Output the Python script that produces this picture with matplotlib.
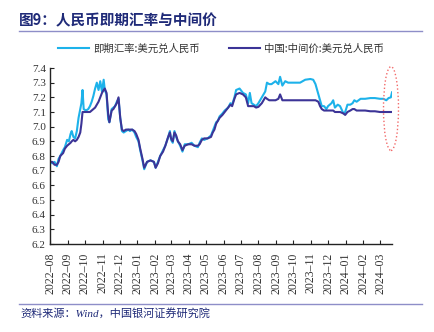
import matplotlib
matplotlib.use('Agg')
import matplotlib.pyplot as plt
import matplotlib.dates as mdates
from matplotlib.patches import Ellipse
from matplotlib.lines import Line2D
import pandas as pd

plt.rcParams['font.family'] = ['Noto Sans CJK SC', 'DejaVu Sans']
plt.rcParams['axes.unicode_minus'] = False

# ===================== 数据 =====================
dates = [
    '2022-08-01', '2022-08-05', '2022-08-09', '2022-08-13', '2022-08-16', '2022-08-19',
    '2022-08-24', '2022-08-27', '2022-08-31', '2022-09-03', '2022-09-06', '2022-09-08',
    '2022-09-11', '2022-09-14', '2022-09-17', '2022-09-20', '2022-09-23', '2022-09-25',
    '2022-09-27', '2022-09-29', '2022-10-03', '2022-10-07', '2022-10-10', '2022-10-13',
    '2022-10-16', '2022-10-19', '2022-10-22', '2022-10-25', '2022-10-28', '2022-10-31',
    '2022-11-03', '2022-11-05', '2022-11-08', '2022-11-11', '2022-11-13', '2022-11-17',
    '2022-11-20', '2022-11-23', '2022-11-26', '2022-11-29', '2022-12-02', '2022-12-05',
    '2022-12-08', '2022-12-12', '2022-12-16', '2022-12-19', '2022-12-23', '2022-12-27',
    '2022-12-30', '2023-01-03', '2023-01-06', '2023-01-10', '2023-01-13', '2023-01-18',
    '2023-01-24', '2023-01-30', '2023-02-02', '2023-02-06', '2023-02-10', '2023-02-15',
    '2023-02-19', '2023-02-24', '2023-02-27', '2023-03-01', '2023-03-04', '2023-03-07',
    '2023-03-10', '2023-03-13', '2023-03-17', '2023-03-21', '2023-03-25', '2023-03-31',
    '2023-04-06', '2023-04-11', '2023-04-17', '2023-04-20', '2023-04-24', '2023-04-28',
    '2023-05-04', '2023-05-10', '2023-05-13', '2023-05-16', '2023-05-19', '2023-05-22',
    '2023-05-25', '2023-05-30', '2023-06-03', '2023-06-09', '2023-06-13', '2023-06-16',
    '2023-06-20', '2023-06-23', '2023-06-29', '2023-07-05', '2023-07-10', '2023-07-14',
    '2023-07-17', '2023-07-20', '2023-07-24', '2023-07-28', '2023-08-01', '2023-08-07',
    '2023-08-13', '2023-08-16', '2023-08-20', '2023-08-24', '2023-08-31', '2023-09-05',
    '2023-09-08', '2023-09-12', '2023-09-17', '2023-09-22', '2023-10-04', '2023-10-13',
    '2023-10-22', '2023-10-31', '2023-11-05', '2023-11-09', '2023-11-14', '2023-11-17',
    '2023-11-20', '2023-11-24', '2023-11-28', '2023-12-01', '2023-12-07', '2023-12-10',
    '2023-12-13', '2023-12-18', '2023-12-22', '2023-12-28', '2023-12-31', '2024-01-04',
    '2024-01-09', '2024-01-13', '2024-01-16', '2024-01-20', '2024-01-27', '2024-02-04',
    '2024-02-13', '2024-02-21', '2024-03-01', '2024-03-07', '2024-03-12', '2024-03-16',
    '2024-03-20', '2024-03-22',
]

spot = [
    6.76, 6.75, 6.76, 6.73, 6.78, 6.80,
    6.84, 6.86, 6.91, 6.90, 6.95, 6.97,
    6.93, 6.92, 6.97, 7.06, 7.12, 7.16,
    7.25, 7.12, 7.11, 7.12, 7.14, 7.17,
    7.21, 7.26, 7.30, 7.25, 7.31, 7.24,
    7.32, 7.25, 7.22, 7.05, 7.03, 7.12,
    7.13, 7.14, 7.17, 7.19, 7.06, 6.97,
    6.96, 6.97, 6.98, 6.97, 6.98, 6.96,
    6.93, 6.90, 6.84, 6.77, 6.71, 6.76,
    6.77, 6.76, 6.72, 6.76, 6.80, 6.84,
    6.87, 6.93, 6.97, 6.91, 6.89, 6.97,
    6.93, 6.90, 6.87, 6.83, 6.88, 6.88,
    6.89, 6.87, 6.86, 6.89, 6.92, 6.91,
    6.92, 6.94, 6.97, 7.00, 7.03, 7.04,
    7.07, 7.09, 7.11, 7.13, 7.16, 7.15,
    7.20, 7.25, 7.26, 7.23, 7.22, 7.16,
    7.23, 7.16, 7.15, 7.14, 7.16, 7.20,
    7.24, 7.30, 7.29, 7.29, 7.31, 7.29,
    7.34, 7.28, 7.31, 7.30, 7.30, 7.30,
    7.32, 7.325, 7.32, 7.29, 7.22, 7.18,
    7.14, 7.14, 7.12, 7.14, 7.16, 7.18,
    7.13, 7.15, 7.14, 7.09, 7.10, 7.15,
    7.15, 7.16, 7.18, 7.17, 7.19, 7.19,
    7.195, 7.195, 7.19, 7.19, 7.18, 7.195,
    7.20, 7.234,
]

mid = [
    6.76, 6.76, 6.74, 6.74, 6.76, 6.80,
    6.82, 6.85, 6.87, 6.88, 6.89, 6.90,
    6.91, 6.90, 6.91, 6.93, 6.96, 7.02,
    7.10, 7.10, 7.10, 7.10, 7.10, 7.11,
    7.12, 7.13, 7.15, 7.17, 7.20, 7.23,
    7.25, 7.26, 7.23, 7.08, 7.03, 7.11,
    7.12, 7.14, 7.16, 7.20, 7.06, 6.98,
    6.97, 6.98, 6.98, 6.98, 6.98, 6.97,
    6.95, 6.91, 6.85, 6.78, 6.72, 6.76,
    6.77, 6.76, 6.72, 6.75, 6.80, 6.83,
    6.87, 6.93, 6.96, 6.92, 6.90, 6.96,
    6.94, 6.90, 6.88, 6.84, 6.87, 6.88,
    6.88, 6.87, 6.87, 6.88, 6.91, 6.92,
    6.92, 6.93, 6.96, 6.98, 7.02, 7.04,
    7.06, 7.08, 7.10, 7.13, 7.15, 7.14,
    7.19, 7.22, 7.23, 7.22, 7.20, 7.14,
    7.14, 7.14, 7.14, 7.13, 7.135, 7.16,
    7.20, 7.19, 7.18, 7.18, 7.18, 7.19,
    7.22, 7.18, 7.18, 7.18, 7.18, 7.18,
    7.18, 7.18, 7.18, 7.18, 7.17, 7.14,
    7.12, 7.11, 7.11, 7.11, 7.11, 7.11,
    7.10, 7.10, 7.10, 7.09, 7.08, 7.10,
    7.11, 7.12, 7.12, 7.11, 7.11, 7.11,
    7.105, 7.105, 7.10, 7.10, 7.10, 7.10,
    7.10, 7.10,
]

spot_label = '即期汇率:美元兑人民币'
mid_label = '中国:中间价:美元兑人民币'
title_text = '图9：人民币即期汇率与中间价'
source_text = '资料来源：Wind，中国银河证券研究院'
y_ticks = [6.2, 6.3, 6.4, 6.5, 6.6, 6.7, 6.8, 6.9, 7.0, 7.1, 7.2, 7.3, 7.4]

x = pd.to_datetime(dates)

# ===================== 画图 =====================
W, H = 434, 332
fig = plt.figure(figsize=(W / 100, H / 100), dpi=100)
ax = fig.add_axes([50 / W, 1 - 244 / H, (392 - 50) / W, (244 - 68) / H])

c_spot = '#1DB2EA'
c_mid = '#3C3497'
navy = '#1F2A78'

ax.plot(x, spot, color=c_spot, lw=1.5, label=spot_label)
ax.plot(x, mid, color=c_mid, lw=1.5, label=mid_label)

ax.set_ylim(6.2, 7.4)
ax.set_yticks(y_ticks)
ax.set_yticklabels([f'{v:.1f}' for v in y_ticks])
ax.set_xlim(x[0], x[-1])
ax.xaxis.set_major_locator(mdates.MonthLocator())
ax.xaxis.set_major_formatter(mdates.DateFormatter('%Y\u2013%m'))

for s in ['top', 'right']:
    ax.spines[s].set_visible(False)
for s in ['left', 'bottom']:
    ax.spines[s].set_color('#222222')
    ax.spines[s].set_linewidth(1.0)

ax.tick_params(axis='both', direction='in', length=3, width=0.8, color='#222222')
ax.tick_params(axis='y', pad=3)
ax.tick_params(axis='x', pad=6)
for lab in ax.get_yticklabels():
    lab.set_family(['Liberation Serif', 'DejaVu Serif'])
    lab.set_fontsize(8)
    lab.set_color('#333333')
for lab in ax.get_xticklabels():
    lab.set_family(['Liberation Serif', 'DejaVu Serif'])
    lab.set_fontsize(8.5)
    lab.set_rotation(90)
    lab.set_color('#333333')

leg = fig.legend(loc='center', bbox_to_anchor=(221 / W, 1 - 48.5 / H), ncol=2,
                 frameon=False, fontsize=7.5, handlelength=3.0, handletextpad=0.4,
                 columnspacing=2.8)
for t in leg.get_texts():
    t.set_color('#333333')

# 标题与分隔线
fig.text(19 / W, 1 - 20.5 / H, title_text, fontsize=10.5, fontweight='bold',
         color=navy, va='center', ha='left')
fig.add_artist(Line2D([19 / W, 422 / W], [1 - 30.5 / H, 1 - 30.5 / H],
                      transform=fig.transFigure, color='#8E8EC8', lw=1.0))
fig.add_artist(Line2D([19 / W, 422 / W], [1 - 303.5 / H, 1 - 303.5 / H],
                      transform=fig.transFigure, color='#8E8EC8', lw=1.0))
fig.text(20 / W, 1 - 313 / H, source_text, fontsize=8, style='italic',
         family=['Liberation Serif', 'Noto Sans CJK SC'],
         color=navy, va='center', ha='left')

# 红色虚线椭圆标注
fig.add_artist(Ellipse((391 / W, 1 - 108.5 / H), 15 / W, 84 / H,
                       transform=fig.transFigure, facecolor='none',
                       edgecolor='#F26A6A', linestyle=':', lw=1.0))

fig.savefig('out.png', dpi=100)
